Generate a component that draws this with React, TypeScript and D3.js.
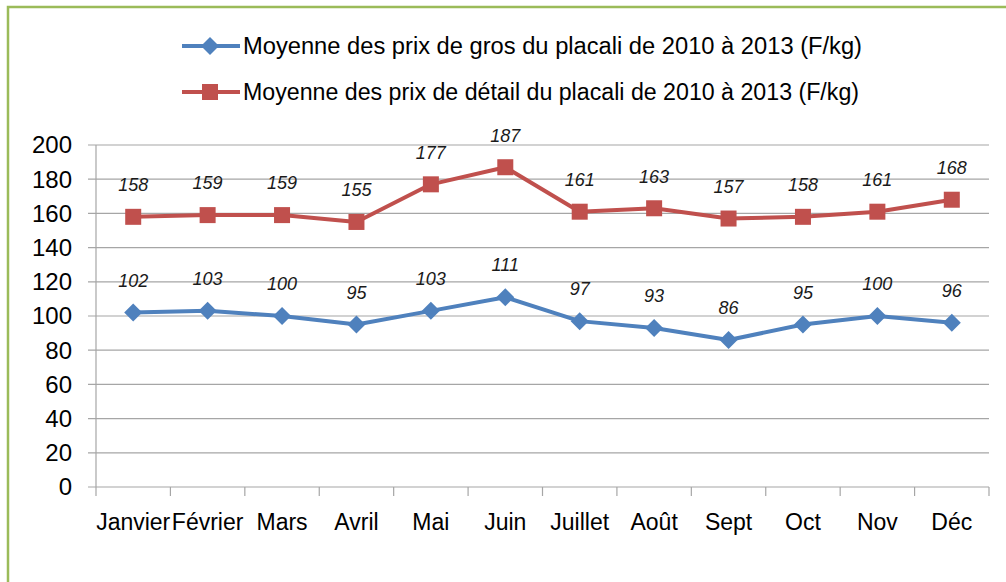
import React, { useEffect, useRef } from 'react';
import * as d3 from 'd3';

const months = ['Janvier', 'Février', 'Mars', 'Avril', 'Mai', 'Juin', 'Juillet', 'Août', 'Sept', 'Oct', 'Nov', 'Déc'];
const gros = [102, 103, 100, 95, 103, 111, 97, 93, 86, 95, 100, 96];
const detail = [158, 159, 159, 155, 177, 187, 161, 163, 157, 158, 161, 168];
const yTicks = [0, 20, 40, 60, 80, 100, 120, 140, 160, 180, 200];
const seriesNames = [
  'Moyenne des prix de gros du placali de 2010 à 2013 (F/kg)',
  'Moyenne des prix de détail du placali de 2010 à 2013 (F/kg)',
];

const W = 1006;
const H = 582;

const App = () => {
  const ref = useRef(null);

  useEffect(() => {
    const svg = d3.select(ref.current);
    svg.selectAll('*').remove();

    const font = "'Liberation Sans', Arial, sans-serif";
    const margin = { top: 145, left: 96, right: 17, bottom: 95 };
    const width = W - margin.left - margin.right;
    const height = H - margin.top - margin.bottom;

    // chart border (green, clipped by the picture on the right and bottom)
    svg.append('rect')
      .attr('x', 8).attr('y', 7)
      .attr('width', W + 20).attr('height', H + 20)
      .attr('fill', 'white')
      .attr('stroke', '#9BBB59').attr('stroke-width', 2.5);

    const g = svg.append('g').attr('transform', `translate(${margin.left},${margin.top})`);

    const x = d3.scaleBand().domain(months).range([0, width]);
    const y = d3.scaleLinear().domain([0, 200]).range([height, 0]);

    // gridlines
    g.append('g')
      .selectAll('line')
      .data(yTicks)
      .enter()
      .append('line')
      .attr('x1', -8).attr('x2', width)
      .attr('y1', d => y(d)).attr('y2', d => y(d))
      .attr('stroke', '#A6A6A6').attr('stroke-width', 1.2);

    // y axis line
    g.append('line')
      .attr('x1', 0).attr('x2', 0).attr('y1', 0).attr('y2', height)
      .attr('stroke', '#A6A6A6').attr('stroke-width', 1.2);

    // x ticks at category boundaries
    const bounds = d3.range(months.length + 1).map(i => i * x.step());
    g.append('g')
      .selectAll('line')
      .data(bounds)
      .enter()
      .append('line')
      .attr('x1', d => d).attr('x2', d => d)
      .attr('y1', height).attr('y2', height + 9)
      .attr('stroke', '#A6A6A6').attr('stroke-width', 1.2);

    // y labels
    g.append('g')
      .selectAll('text')
      .data(yTicks)
      .enter()
      .append('text')
      .attr('x', -24).attr('y', d => y(d))
      .attr('dy', '0.35em')
      .attr('text-anchor', 'end')
      .attr('font-family', font).attr('font-size', 24)
      .text(d => d);

    // x labels
    g.append('g')
      .selectAll('text')
      .data(months)
      .enter()
      .append('text')
      .attr('x', d => x(d) + x.bandwidth() / 2).attr('y', height + 43)
      .attr('text-anchor', 'middle')
      .attr('font-family', font).attr('font-size', 23)
      .text(d => d);

    const series = [
      { values: gros, color: '#4F81BD', shape: 'diamond' },
      { values: detail, color: '#C0504D', shape: 'square' },
    ];

    const cx = i => x(months[i]) + x.bandwidth() / 2;
    const line = d3.line().x((d, i) => cx(i)).y(d => y(d));

    const marker = (sel, shape, color) => {
      if (shape === 'diamond') {
        sel.append('path')
          .attr('d', 'M0,-9L9,0L0,9L-9,0Z')
          .attr('fill', color);
      } else {
        sel.append('rect')
          .attr('x', -8).attr('y', -8).attr('width', 16).attr('height', 16)
          .attr('fill', color);
      }
    };

    series.forEach(s => {
      g.append('path')
        .datum(s.values)
        .attr('d', line)
        .attr('fill', 'none')
        .attr('stroke', s.color).attr('stroke-width', 4)
        .attr('stroke-linejoin', 'round');

      s.values.forEach((v, i) => {
        const m = g.append('g').attr('transform', `translate(${cx(i)},${y(v)})`);
        marker(m, s.shape, s.color);
      });

      g.append('g')
        .selectAll('text')
        .data(s.values)
        .enter()
        .append('text')
        .attr('x', (d, i) => cx(i)).attr('y', d => y(d) - 32)
        .attr('dy', '0.35em')
        .attr('text-anchor', 'middle')
        .attr('font-family', font).attr('font-size', 18)
        .attr('font-style', 'italic')
        .attr('fill', '#1a1a1a')
        .text(d => d);
    });

    // legend
    const leg = svg.append('g');
    seriesNames.forEach((name, i) => {
      const ly = 46 + i * 46;
      const s = series[i];
      leg.append('line')
        .attr('x1', 182).attr('x2', 240).attr('y1', ly).attr('y2', ly)
        .attr('stroke', s.color).attr('stroke-width', 4);
      const m = leg.append('g').attr('transform', `translate(210,${ly})`);
      marker(m, s.shape, s.color);
      leg.append('text')
        .attr('x', 243).attr('y', ly)
        .attr('dy', '0.35em')
        .attr('font-family', font).attr('font-size', 23)
        .attr('textLength', i === 0 ? 619 : 616)
        .attr('lengthAdjust', 'spacingAndGlyphs')
        .text(name);
    });
  }, []);

  return <svg ref={ref} width={W} height={H} style={{ display: 'block', position: 'absolute', left: 0, top: 0 }} />;
};

export default App;
